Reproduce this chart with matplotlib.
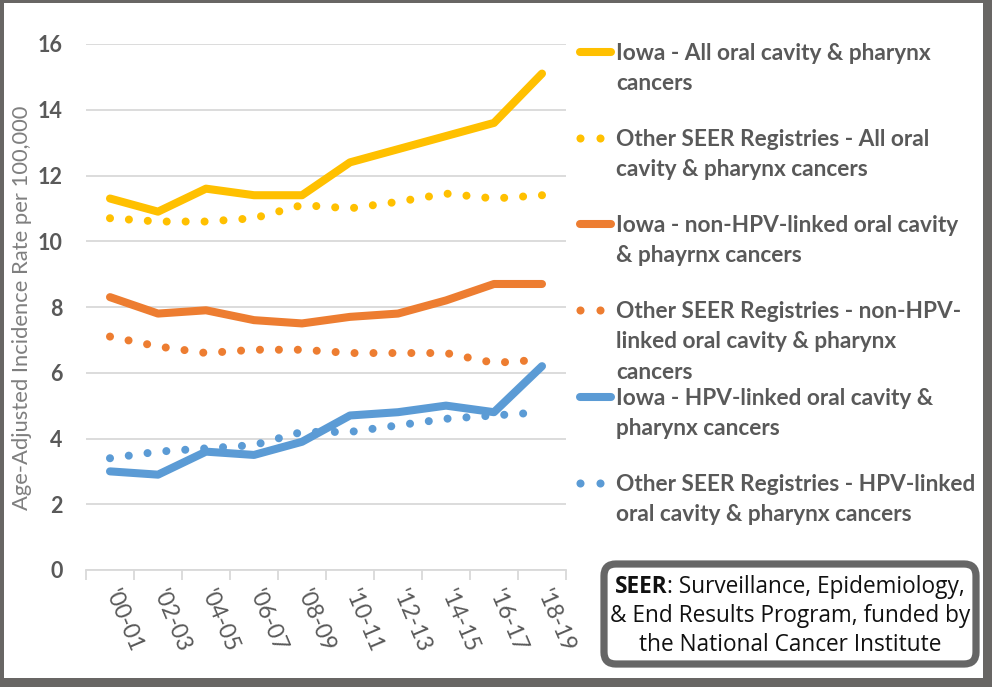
import matplotlib
matplotlib.use('Agg')
import matplotlib.pyplot as plt
from matplotlib.lines import Line2D
from matplotlib.patches import Rectangle, FancyBboxPatch

# ---------------- data ----------------
periods = ["'00-01", "'02-03", "'04-05", "'06-07", "'08-09",
           "'10-11", "'12-13", "'14-15", "'16-17", "'18-19"]
iowa_all = [11.3, 10.9, 11.6, 11.4, 11.4, 12.4, 12.8, 13.2, 13.6, 15.1]
seer_all = [10.7, 10.6, 10.6, 10.7, 11.1, 11.0, 11.2, 11.45, 11.3, 11.4]
iowa_nonhpv = [8.3, 7.8, 7.9, 7.6, 7.5, 7.7, 7.8, 8.2, 8.7, 8.7]
seer_nonhpv = [7.1, 6.8, 6.6, 6.7, 6.7, 6.6, 6.6, 6.6, 6.3, 6.4]
iowa_hpv = [3.0, 2.9, 3.6, 3.5, 3.9, 4.7, 4.8, 5.0, 4.8, 6.2]
seer_hpv = [3.4, 3.6, 3.7, 3.8, 4.2, 4.2, 4.4, 4.6, 4.7, 4.8]

series_labels = [
    "Iowa - All oral cavity & pharynx\ncancers",
    "Other SEER Registries - All oral\ncavity & pharynx cancers",
    "Iowa - non-HPV-linked oral cavity\n& phayrnx cancers",
    "Other SEER Registries - non-HPV-\nlinked oral cavity & pharynx\ncancers",
    "Iowa - HPV-linked oral cavity &\npharynx cancers",
    "Other SEER Registries - HPV-linked\noral cavity & pharynx cancers",
]
y_ticks = [0, 2, 4, 6, 8, 10, 12, 14, 16]
y_label = "Age-Adjusted Incidence Rate per 100,000"
note_bold = "SEER"
note_lines = [": Surveillance, Epidemiology,",
              "& End Results Program, funded by",
              "the National Cancer Institute"]

# ---------------- style ----------------
GOLD = '#FFC000'
ORANGE = '#ED7D31'
BLUE = '#5B9BD5'
TXT = '#595959'
GRID = '#D9D9D9'
W, H = 992, 687
LW = 5.8
DOT = (0, (0.001, 2.35))

plt.rcParams['font.family'] = ['Lato', 'DejaVu Sans']

fig = plt.figure(figsize=(W / 100, H / 100), dpi=100)
fig.patch.set_facecolor('#686664')

def fx(x):
    return x / W

def fy(y):
    return 1 - y / H

# white inner panel
fig.patches.append(Rectangle((fx(4), fy(678)), fx(983) - fx(4), fy(3) - fy(678),
                             transform=fig.transFigure, facecolor='white',
                             edgecolor='none', zorder=-5))

ax = fig.add_axes([fx(86), fy(570), fx(566) - fx(86), fy(44) - fy(570)])
ax.set_facecolor('none')
ax.set_zorder(1)

xs = list(range(len(periods)))
series = [
    (iowa_all, GOLD, '-'),
    (seer_all, GOLD, DOT),
    (iowa_nonhpv, ORANGE, '-'),
    (seer_nonhpv, ORANGE, DOT),
    (iowa_hpv, BLUE, '-'),
    (seer_hpv, BLUE, DOT),
]
for vals, col, ls in series:
    ax.plot(xs, vals, color=col, lw=LW, linestyle=ls,
            solid_capstyle='round', solid_joinstyle='round',
            dash_capstyle='round', zorder=3)

ax.set_xlim(-0.5, len(periods) - 0.5)
ax.set_ylim(0, 16)
ax.set_yticks(y_ticks)
ax.set_yticklabels([str(v) for v in y_ticks], fontsize=15.5,
                   fontweight='bold', color=TXT)
ax.tick_params(axis='y', length=0, pad=17)
ax.yaxis.grid(True, color=GRID, lw=1.3)
ax.set_axisbelow(True)

ax.set_xticks(xs)
ax.set_xticklabels(periods, rotation=-67, ha='left', va='center',
                   rotation_mode='anchor', fontsize=16.5, color=TXT)
ax.tick_params(axis='x', which='major', length=0, pad=15)
ax.set_xticks([i - 0.5 for i in range(len(periods) + 1)], minor=True)
ax.tick_params(axis='x', which='minor', length=7, color=GRID, width=1.3)

for s in ['left', 'right', 'top']:
    ax.spines[s].set_visible(False)
ax.spines['bottom'].set_color(GRID)
ax.spines['bottom'].set_linewidth(1.3)

fig.text(fx(22), fy(308), y_label, rotation=90, ha='center', va='center',
         fontsize=15.8, color='#7F7F7F')

# ---------------- legend (manual) ----------------
entry_y = [52, 138, 224, 310, 397, 483]
for (vals, col, ls), lab, yy in zip(series, series_labels, entry_y):
    if ls == '-':
        fig.add_artist(Line2D([fx(580), fx(611)], [fy(yy), fy(yy)], color=col,
                              lw=LW, solid_capstyle='round',
                              transform=fig.transFigure))
    else:
        fig.add_artist(Line2D([fx(580), fx(600)], [fy(yy), fy(yy)], color=col,
                              lw=0, marker='o', markersize=5.8,
                              markeredgewidth=0, linestyle='none',
                              transform=fig.transFigure))
    fig.text(fx(616), fy(yy - 9), lab, ha='left', va='top', fontsize=16.3,
             fontweight='bold', color=TXT, linespacing=1.55)

# ---------------- note box ----------------
fig.patches.append(FancyBboxPatch((fx(604), fy(664)), fx(976) - fx(604),
                                  fy(564) - fy(664),
                                  boxstyle='round,pad=0,rounding_size=0.012',
                                  transform=fig.transFigure, facecolor='white',
                                  edgecolor='#666666', lw=5.2, zorder=2,
                                  mutation_aspect=W / H))

nfont = ['Open Sans', 'DejaVu Sans']
NFS = 16.3
fig.canvas.draw()
r = fig.canvas.get_renderer()
tb = fig.text(0, fy(587), note_bold, fontsize=NFS, fontweight='bold',
              family=nfont, color='#111111', va='center', ha='left')
tn = fig.text(0, fy(587), note_lines[0], fontsize=NFS, family=nfont,
              color='#111111', va='center', ha='left')
wb = tb.get_window_extent(r).width
wn = tn.get_window_extent(r).width
cx = 790
start = cx - (wb + wn) / 2
tb.set_x(fx(start))
tn.set_x(fx(start + wb))
for line, yy in zip(note_lines[1:], [616, 645]):
    fig.text(fx(cx), fy(yy), line, fontsize=NFS, family=nfont,
             color='#111111', va='center', ha='center')

fig.savefig('out.png', dpi=100, facecolor=fig.get_facecolor())
